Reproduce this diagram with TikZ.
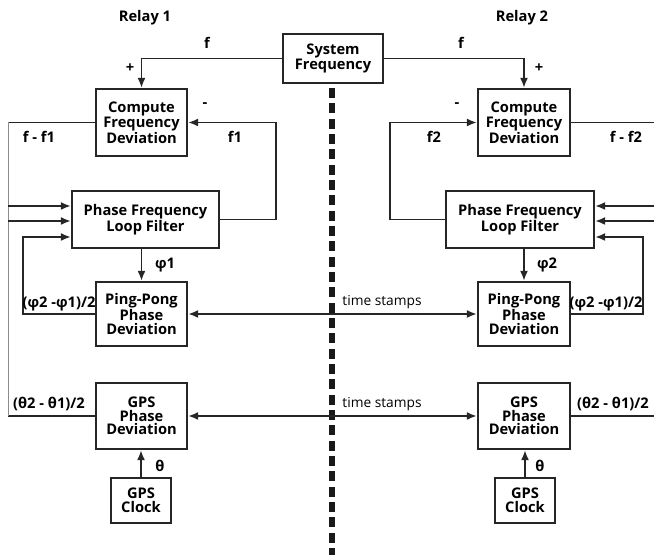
\documentclass[tikz,border=0pt]{standalone}
\usepackage{fontspec}
\setmainfont{Open Sans}
\usetikzlibrary{arrows.meta,calc}
\begin{document}
\begin{tikzpicture}[x=0.75pt,y=-0.75pt,
  blk/.style 2 args={draw=black!85,line width=1.7pt,align=center,inner sep=0pt,
    minimum width=#1*0.75pt,minimum height=#2*0.75pt,
    font=\fontsize{11}{10.2}\selectfont\bfseries},
  wire/.style={draw=black!85,line width=1.4pt},
  arr/.style={wire,-{Latex[length=7.5pt,width=6pt]}},
  arrb/.style={wire,{Latex[length=7.5pt,width=6pt]}-{Latex[length=7.5pt,width=6pt]}},
  thin/.style={draw=black!45,line width=0.6pt},
  lab/.style={font=\fontsize{11}{12}\selectfont\bfseries,inner sep=0pt},
  tlab/.style={font=\fontsize{10.3}{11}\selectfont,inner sep=0pt},
  divider/.style={draw=black!90,line width=4.5pt,dash pattern=on 7.5pt off 4pt}]
\useasboundingbox (0,0) rectangle (654,555);
% boxes
\node[blk={100}{49}] (sys) at (333,58.5) {System\\Frequency};
\node[blk={91}{67}] (csl) at (141.5,122.5) {Compute\\Frequency\\Deviation};
\node[blk={92}{67}] (csr) at (524,122.5) {Compute\\Frequency\\Deviation};
\node[blk={147}{57}] (pfl) at (145.5,219.5) {Phase Frequency\\Loop Filter};
\node[blk={148}{57}] (pfr) at (520,219.5) {Phase Frequency\\Loop Filter};
\node[blk={91}{64}] (ppl) at (141.5,314) {Ping-Pong\\Phase\\Deviation};
\node[blk={92}{64}] (ppr) at (524,314) {Ping-Pong\\Phase\\Deviation};
\node[blk={91}{66}] (gpl) at (141.5,416) {GPS\\Phase\\Deviation};
\node[blk={92}{66}] (gpr) at (524,416) {GPS\\Phase\\Deviation};
\node[blk={60}{45}] (ckl) at (141,500.5) {GPS\\Clock};
\node[blk={60}{45}] (ckr) at (525,500.5) {GPS\\Clock};
% divider
\coordinate (dtop) at (332,88);
\coordinate (dbot) at (332,555);
\draw[divider] (dtop) -- (dbot);
% system frequency feeds
\draw[arr] (sys.west) -| (csl.north);
\draw[arr] (sys.east) -| (csr.north);
% f1 / f2 feedback
\draw[arr] (pfl.east) -- (276,219.5) |- (csl.east);
\draw[arr] (pfr.west) -- (390,219.5) |- (csr.west);
% left edge feeds (relay 1)
\coordinate (le1) at (8,122.5);
\coordinate (le2) at (8,416);
\draw[wire] (csl.west) -- (le1);
\draw[wire] (gpl.west) -- (le2);
\draw[thin] (le1) -- (le2);
\draw[arr] (8,206) -- ($(pfl.west)+(0,-13.5)$);
\draw[arr] (8,221) -- ($(pfl.west)+(0,1.5)$);
\draw[arr] (ppl.west) -| (23,237) -- ($(pfl.west)+(0,17.5)$);
% right edge feeds (relay 2)
\draw[wire] (csr.east) -- (654,122.5);
\draw[wire] (gpr.east) -- (654,416);
\draw[arr] (654,206) -- ($(pfr.east)+(0,-13.5)$);
\draw[arr] (654,221) -- ($(pfr.east)+(0,1.5)$);
\draw[arr] (ppr.east) -| (643,237) -- ($(pfr.east)+(0,17.5)$);
% phi
\draw[arr] (ppl.north |- pfl.south) -- (ppl.north);
\draw[arr] (ppr.north |- pfr.south) -- (ppr.north);
% theta
\draw[arr] (ckl.north) -- (ckl.north |- gpl.south);
\draw[arr] (ckr.north) -- (ckr.north |- gpr.south);
% time stamps
\draw[arrb] (ppl.east) -- (ppr.west);
\draw[arrb] (gpl.east) -- (gpr.west);
% labels
\node[lab] (r1) at (145,18) {Relay 1};
\node[lab] (r2) at (522,18) {Relay 2};
\node[lab] at (207,43) {f};
\node[lab] at (461,43) {f};
\node[lab] at (130,68) {+};
\node[lab] at (539,68) {+};
\node[lab] at (205,105) {-};
\node[lab] at (457,105) {-};
\node[lab] at (235,137) {f1};
\node[lab] at (434,137) {f2};
\node[lab] at (39,137) {f - f1};
\node[lab] at (626,137) {f - f2};
\node[lab] at (165,265) {φ1};
\node[lab] at (547,265) {φ2};
\node[lab] at (59,304) {(φ2 -φ1)/2};
\node[lab] at (606,304) {(φ2 -φ1)/2};
\node[tlab] at (382,302) {time stamps};
\node[tlab] at (382,404) {time stamps};
\node[lab] at (49,404) {(θ2 - θ1)/2};
\node[lab] at (613,404) {(θ2 - θ1)/2};
\node[lab] at (160,466) {θ};
\node[lab] at (540,466) {θ};
\end{tikzpicture}
\end{document}
